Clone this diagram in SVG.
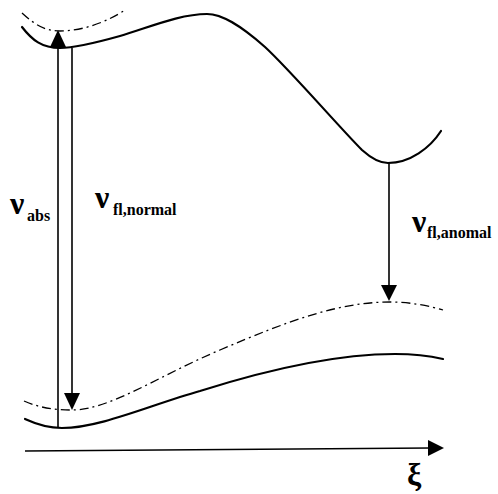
<svg xmlns="http://www.w3.org/2000/svg" width="498" height="494" viewBox="0 0 498 494">
<style>
.solid{fill:none;stroke:#000;stroke-width:2.2;stroke-linecap:round}
.dash{fill:none;stroke:#000;stroke-width:1.3;stroke-dasharray:9 4 2 4}
.arr{fill:none;stroke:#000;stroke-width:1.6}
.head{fill:#000}
.nu{font-family:"Liberation Serif","Times New Roman",serif;font-weight:bold;font-size:32px}
.sub{font-family:"Liberation Serif","Times New Roman",serif;font-weight:bold;font-size:16px}
</style>
<rect width="498" height="494" fill="#fff"/>
<g id="curves">
<path id="excited-upper" class="dash" d="M22,13 C35,25 45,31 60,31 C85,31 110,20 125,10"/>
<path id="excited" class="solid" d="M22,27 C32,40 42,48 60,48 C75,48 95,43 120,36 C150,27 180,14 207,14 C222,14 240,25 265,47 C290,70 340,128 362,150 C372,159 380,163 388,163 C410,163 430,148 441,131"/>
<path id="ground-upper" class="dash" d="M24,401 C40,408 55,410 72,410 C110,410 160,375 220,350 C290,320 340,302 390,302 C410,302 430,306 443,310"/>
<path id="ground" class="solid" d="M25,419 C38,425 48,428 62,428 C100,428 150,405 200,391 C260,372 330,354 395,354 C415,354 430,356 443,359"/>
</g>
<g id="connectors">
<line class="arr" x1="58" y1="46" x2="58" y2="428"/>
<polygon class="head" points="50,47 58,30 66,47"/>
<line class="arr" x1="72" y1="48" x2="72" y2="394"/>
<polygon class="head" points="64,393 72,410 80,393"/>
<line class="arr" x1="389" y1="163" x2="389" y2="286"/>
<polygon class="head" points="381,285 389,301 397,285"/>
<line class="arr" x1="25" y1="451" x2="430" y2="448" stroke-width="2.4"/>
<polygon class="head" points="428,440 444,448 428,456"/>
</g>
<g id="labels">
<text class="nu" x="10" y="214">ν</text><text class="sub" x="27" y="221">abs</text>
<text class="nu" x="95" y="208">ν</text><text class="sub" x="113" y="215">fl,normal</text>
<text class="nu" x="412" y="232">ν</text><text class="sub" x="427" y="238" font-size="17">fl,anomal</text>
<text class="nu" x="407" y="485">ξ</text>
</g>
</svg>
